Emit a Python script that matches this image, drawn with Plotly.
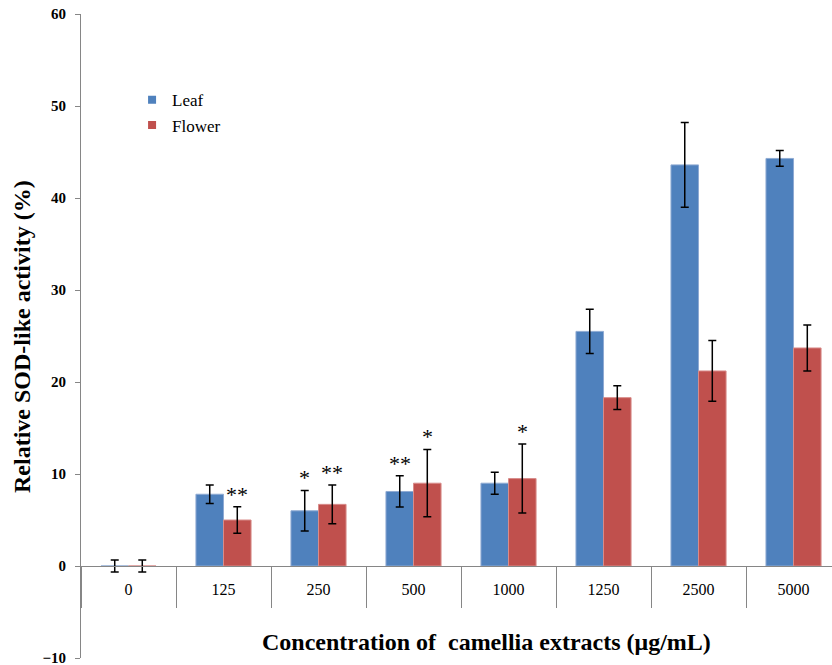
import plotly.graph_objects as go

categories = ["0", "125", "250", "500", "1000", "1250", "2500", "5000"]
leaf_values = [0.0, 7.8, 6.0, 8.1, 9.0, 25.5, 43.6, 44.3]
leaf_errors = [0.65, 1.0, 2.2, 1.7, 1.2, 2.4, 4.6, 0.85]
flower_values = [0.0, 5.0, 6.7, 9.0, 9.5, 18.3, 21.2, 23.7]
flower_errors = [0.65, 1.45, 2.1, 3.65, 3.75, 1.3, 3.3, 2.5]
leaf_stars = ["", "", "*", "**", "", "", "", ""]
flower_stars = ["", "**", "**", "*", "*", "", "", ""]

BLUE = "#4F81BD"
RED = "#C0504D"
GRAY = "#868686"
SERIF = "Liberation Serif, Times New Roman, serif"

xpos = list(range(len(categories)))

fig = go.Figure()
fig.add_trace(go.Bar(
    x=xpos, y=leaf_values, name="Leaf", marker=dict(color=BLUE, line=dict(color="#8FAAD3", width=1)),
    error_y=dict(type="data", array=leaf_errors, color="black", thickness=1.5, width=4),
    showlegend=False))
fig.add_trace(go.Bar(
    x=xpos, y=flower_values, name="Flower", marker=dict(color=RED, line=dict(color="#D88C8A", width=1)),
    error_y=dict(type="data", array=flower_errors, color="black", thickness=1.5, width=4),
    showlegend=False))
# legend entries with small square symbols
fig.add_trace(go.Scatter(x=[None], y=[None], mode="markers", name="Leaf",
                         marker=dict(symbol="square", size=8, color=BLUE)))
fig.add_trace(go.Scatter(x=[None], y=[None], mode="markers", name="Flower",
                         marker=dict(symbol="square", size=8, color=RED)))
# separator axis helper
fig.add_trace(go.Scatter(x=[None], y=[None], xaxis="x2", showlegend=False, hoverinfo="skip"))

xr = [-0.5, 7.405]
ypos0 = 10 / 70

annotations = []
half = 0.145
for i in xpos:
    for stars, vals, errs, off in ((leaf_stars, leaf_values, leaf_errors, -half),
                                   (flower_stars, flower_values, flower_errors, half)):
        if stars[i]:
            annotations.append(dict(
                x=i + off, y=vals[i] + errs[i] + 1.7, xref="x", yref="y",
                text=stars[i], showarrow=False, yanchor="middle", yshift=-3,
                font=dict(family=SERIF, size=22, color="black")))

annotations.append(dict(
    x=-0.0786, y=0.5, xref="paper", yref="paper", text="<b>Relative SOD-like activity (%)</b>",
    textangle=-90, showarrow=False, xanchor="center", yanchor="middle",
    font=dict(family=SERIF, size=24, color="black")))
annotations.append(dict(
    x=0.5406, y=0.0248, xref="paper", yref="paper",
    text="<b>Concentration of  camellia extracts (μg/mL)</b>",
    showarrow=False, xanchor="center", yanchor="middle",
    font=dict(family=SERIF, size=24, color="black")))

fig.update_layout(
    width=832, height=665,
    margin=dict(l=81, r=0, t=14, b=7),
    paper_bgcolor="white", plot_bgcolor="white",
    barmode="group", bargap=0.42, bargroupgap=0,
    font=dict(family=SERIF, color="black"),
    legend=dict(x=0.068, y=0.894, xanchor="left", yanchor="top",
                font=dict(family=SERIF, size=17, color="black"),
                bgcolor="rgba(0,0,0,0)", tracegroupgap=0, itemwidth=30),
    xaxis=dict(range=xr, tickmode="array", tickvals=xpos, ticktext=categories,
               ticks="outside", ticklen=9, tickcolor="rgba(0,0,0,0)",
               showline=True, linecolor=GRAY, linewidth=1, showgrid=False, zeroline=False,
               anchor="free", position=ypos0,
               tickfont=dict(family=SERIF, size=16, color="black")),
    xaxis2=dict(range=xr, overlaying="x", tickmode="array",
                tickvals=[i - 0.5 for i in range(len(categories) + 1)],
                ticks="outside", ticklen=41, tickcolor=GRAY, tickwidth=1,
                showticklabels=False, showline=False, showgrid=False, zeroline=False,
                anchor="free", position=ypos0),
    yaxis=dict(range=[-10, 60], tickmode="linear", tick0=0, dtick=10,
               ticks="outside", ticklen=5, tickcolor=GRAY, showline=True, linecolor=GRAY,
               linewidth=1, showgrid=False, zeroline=False, ticklabelstandoff=6,
               ticklabeloverflow="allow",
               tickfont=dict(family=SERIF, size=15, color="black", weight="bold")),
    annotations=annotations,
)

fig.write_html("out.html")
